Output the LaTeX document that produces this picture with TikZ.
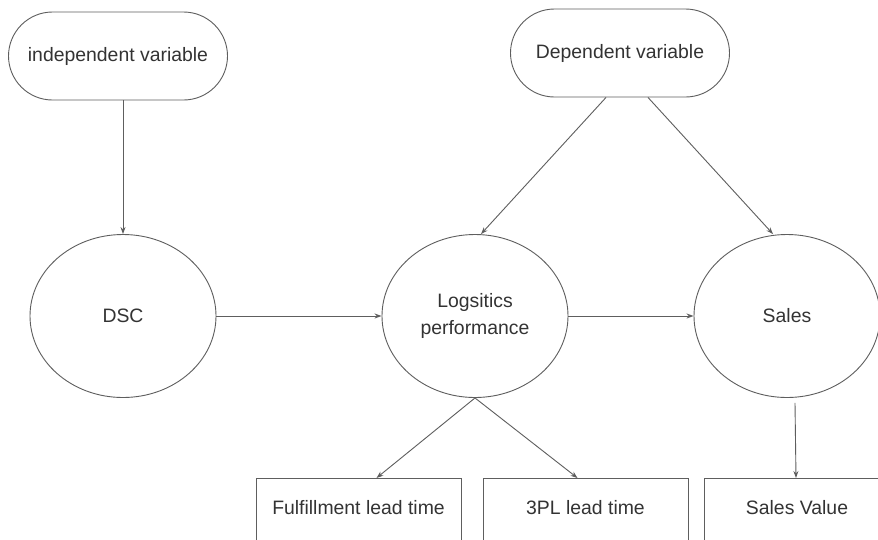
\documentclass[tikz,border=0pt]{standalone}
\usepackage{fontspec}
\setmainfont{Liberation Sans}
\usetikzlibrary{shapes.geometric,shapes.misc,arrows.meta}
\definecolor{edge}{HTML}{5E5E5E}
\definecolor{ink}{HTML}{333333}
\tikzset{
  base/.style={draw=edge, line width=0.9pt, text=ink, inner sep=0pt,
    font=\fontsize{19.4}{27}\selectfont, align=center},
  pill/.style={base, rounded rectangle, minimum width=219pt, minimum height=88pt},
  oval/.style={base, ellipse, minimum width=186pt, minimum height=163pt},
  leaf/.style={base, rectangle, anchor=north, minimum width=205pt,
    text height=36pt, text depth=31pt},
  arr/.style={draw=edge, line width=0.9pt, -{Stealth[length=7pt,width=5pt]}}
}
\begin{document}
\begin{tikzpicture}[x=1pt,y=-1pt]
\useasboundingbox (0,0) rectangle (878,539);
\clip (0,0) rectangle (878,539);
\fill[white] (0,0) rectangle (878,539);

% top-level variables
\node[pill] (indep) at (118,56) {independent variable};
\node[pill] (dep) at (620,53) {Dependent variable};

% central constructs
\node[oval] (dsc) at (123,316) {DSC};
\node[oval] (log) at (475,316) {Logsitics\\performance};
\node[oval] (sales) at (787,316) {Sales};

% measures
\node[leaf] (ful) at (358.5,478) {Fulfillment lead time};
\node[leaf] (tpl) at (585.5,478) {3PL lead time};
\node[leaf, minimum width=186pt] (sv) at (797,478) {Sales Value};

% connectors
\draw[arr] (indep.south -| dsc.north) -- (dsc.north);
\draw[arr] ([xshift=-14pt]dep.south) -- ([xshift=6pt]log.north);
\draw[arr] ([xshift=28pt]dep.south) -- ([xshift=-14pt]sales.north);
\draw[arr] (dsc.east) -- (log.west);
\draw[arr] (log.east) -- (sales.west);
\draw[arr] (log.south) -- ([xshift=18pt]ful.north);
\draw[arr] (log.south) -- ([xshift=-8pt]tpl.north);
\draw[arr] ([xshift=8pt,yshift=-5pt]sales.south) -- ([xshift=-1pt]sv.north);
\end{tikzpicture}
\end{document}
